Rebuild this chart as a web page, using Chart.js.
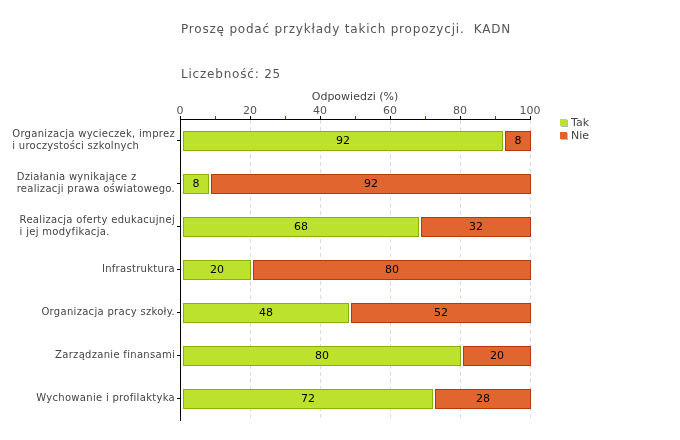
<!DOCTYPE html>
<html>
<head>
<meta charset="utf-8">
<script src="https://cdn.jsdelivr.net/npm/chart.js@4"></script>
<style>
  body { margin: 0; background: #fff; }
</style>
</head>
<body>
<canvas id="chart" width="680" height="440"></canvas>
<script>
const categories = [
  ['Organizacja wycieczek, imprez', 'i uroczystości szkolnych'],
  ['Działania wynikające z', 'realizacji prawa oświatowego.'],
  ['Realizacja oferty edukacujnej', 'i jej modyfikacja.'],
  'Infrastruktura',
  'Organizacja pracy szkoły.',
  'Zarządzanie finansami',
  'Wychowanie i profilaktyka'
];
const takValues = [92, 8, 68, 20, 48, 80, 72];
const nieValues = [8, 92, 32, 80, 52, 20, 28];
const seriesNames = ['Tak', 'Nie'];
const chartTitle = 'Proszę podać przykłady takich propozycji.  KADN';
const countLabel = 'Liczebność: 25';
const axisTitle = 'Odpowiedzi (%)';

const FONT = '"DejaVu Sans", Verdana, sans-serif';

// rysuje slupki z odstepem, etykiety osi Y, legende i tytuly
const extras = {
  id: 'extras',
  beforeDatasetDraw() {
    return false;
  },
  afterDatasetsDraw(chart) {
    const ctx = chart.ctx;
    const area = chart.chartArea;
    ctx.save();
    chart.data.datasets.forEach((ds, i) => {
      const meta = chart.getDatasetMeta(i);
      meta.data.forEach((bar, j) => {
        const p = bar.getProps(['x', 'y', 'base', 'height'], true);
        const inset = Math.round(p.base) > area.left + 1 ? 3.5 : 2.5;
        const left = Math.round(p.base) + inset;
        const right = Math.round(p.x) + 0.5;
        const top = Math.round(p.y - p.height / 2) + 0.5;
        const h = Math.round(p.height) - 1;
        ctx.fillStyle = ds.backgroundColor;
        ctx.fillRect(left, top, right - left, h);
        ctx.strokeStyle = ds.borderColor;
        ctx.lineWidth = 1;
        ctx.strokeRect(left, top, right - left, h);
        ctx.fillStyle = '#000';
        ctx.font = '11px ' + FONT;
        ctx.textAlign = 'center';
        ctx.textBaseline = 'middle';
        ctx.fillText(ds.data[j], (left + right) / 2, p.y + 1);
      });
    });
    ctx.restore();
  },
  afterDraw(chart) {
    const ctx = chart.ctx;
    const area = chart.chartArea;
    const yScale = chart.scales.y;
    ctx.save();

    // etykiety kategorii
    ctx.font = '10px ' + FONT;
    ctx.letterSpacing = '0.3px';
    ctx.fillStyle = '#444';
    ctx.textAlign = 'left';
    ctx.textBaseline = 'middle';
    categories.forEach((cat, i) => {
      const lines = Array.isArray(cat) ? cat : [cat];
      const w = Math.max(...lines.map(l => ctx.measureText(l).width));
      const yc = yScale.getPixelForValue(i);
      const x0 = area.left - 5 - w;
      lines.forEach((l, k) => {
        ctx.fillText(l, x0, yc + (k - (lines.length - 1) / 2) * 12);
      });
    });

    // tytul i liczebnosc
    ctx.font = '12px ' + FONT;
    ctx.letterSpacing = '0.8px';
    ctx.fillStyle = '#555';
    ctx.fillText(chartTitle, area.left + 1, 30);
    ctx.fillText(countLabel, area.left + 1, 75);

    // legenda
    ctx.font = '11px ' + FONT;
    ctx.letterSpacing = '0px';
    chart.data.datasets.forEach((ds, i) => {
      const lx = area.right + 30;
      const ly = area.top + 4 + i * 13;
      ctx.fillStyle = '#bbb';
      ctx.fillRect(lx + 1, ly - 3, 7, 7);
      ctx.fillStyle = ds.backgroundColor;
      ctx.fillRect(lx, ly - 4, 7, 7);
      ctx.fillStyle = '#444';
      ctx.fillText(ds.label, lx + 11, ly);
    });
    ctx.restore();
  }
};

new Chart(document.getElementById('chart'), {
  type: 'bar',
  data: {
    labels: categories,
    datasets: [{
      label: seriesNames[0],
      data: takValues,
      backgroundColor: '#bde22e',
      borderColor: '#8cb000'
    }, {
      label: seriesNames[1],
      data: nieValues,
      backgroundColor: '#e0652f',
      borderColor: '#b5390d'
    }]
  },
  options: {
    indexAxis: 'y',
    responsive: false,
    animation: false,
    devicePixelRatio: 1,
    barThickness: 20,
    layout: { padding: { top: 80, left: 0, right: 150, bottom: 20 } },
    plugins: {
      legend: { display: false },
      tooltip: { enabled: false }
    },
    scales: {
      x: {
        position: 'top',
        stacked: true,
        min: 0,
        max: 100,
        afterFit: s => { s.height = 39; },
        ticks: {
          stepSize: 10,
          padding: -2,
          color: '#555',
          font: { family: FONT, size: 11 },
          callback: v => (v % 20 === 0 ? v : '')
        },
        grid: {
          tickLength: 3,
          color: c => (c.tick && c.tick.value % 20 === 0 && c.tick.value > 0 ? '#dcdcdc' : 'rgba(0,0,0,0)'),
          tickColor: c => (c.tick && c.tick.value % 20 === 0 ? '#000' : '#e00000')
        },
        border: { color: '#000', dash: [4, 3] },
        title: {
          display: true,
          text: axisTitle,
          color: '#444',
          font: { family: FONT, size: 11 },
          padding: { top: 11, bottom: 0 }
        }
      },
      y: {
        stacked: true,
        afterFit: s => { s.width = 180; },
        ticks: { display: false },
        grid: { offset: false, drawOnChartArea: false, tickLength: 3, color: '#000' },
        border: { color: '#000' }
      }
    }
  },
  plugins: [extras]
});
</script>
</body>
</html>
